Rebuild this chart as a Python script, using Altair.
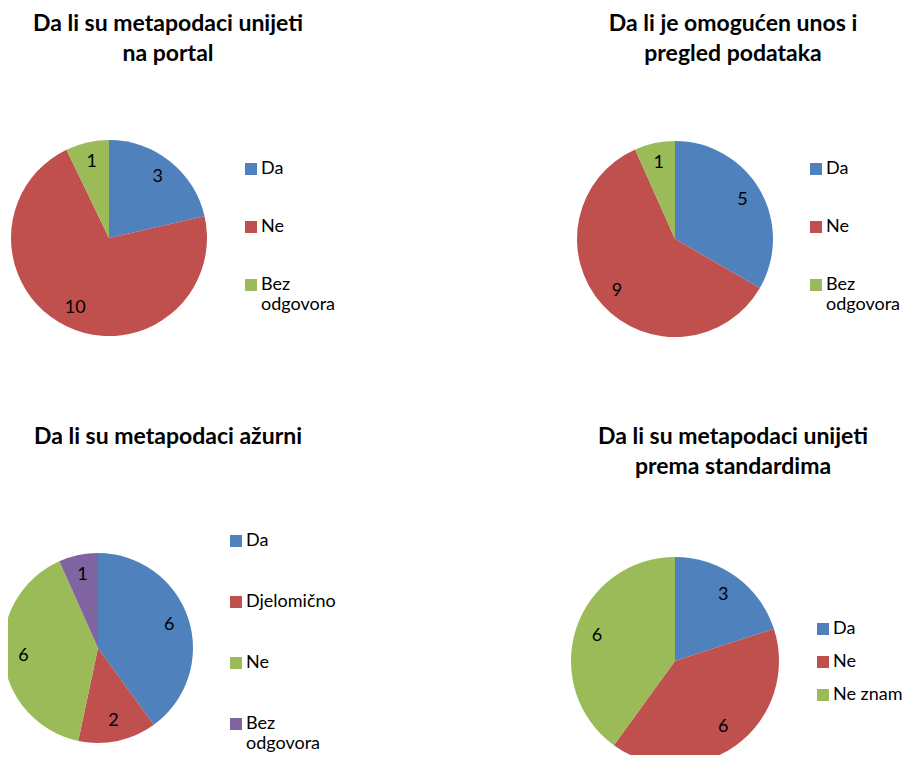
import altair as alt
import pandas as pd

# ---- data ----
titles = [
    "Da li su metapodaci unijeti\nna portal",
    "Da li je omogućen unos i\npregled podataka",
    "Da li su metapodaci ažurni",
    "Da li su metapodaci unijeti\nprema standardima",
]
cats1 = ["Da", "Ne", "Bez odgovora"]
vals1 = [3, 10, 1]
cats2 = ["Da", "Ne", "Bez odgovora"]
vals2 = [5, 9, 1]
cats3 = ["Da", "Djelomično", "Ne", "Bez odgovora"]
vals3 = [6, 2, 6, 1]
cats4 = ["Da", "Ne", "Ne znam"]
vals4 = [3, 6, 6]
palette = ["#4F81BD", "#C0504D", "#9BBB59", "#8064A2"]

FONT = "Lato"

# layout per panel: centre, radius, label radius, title pos, legend pos, legend row padding
panels = [
    dict(cats=cats1, vals=vals1, cx=101, cy=230, r=98, lr=78, tx=160, ty=23,
         lx=234, ly=152, rp=40),
    dict(cats=cats2, vals=vals2, cx=667, cy=231, r=98, lr=78, tx=725, ty=23,
         lx=799, ly=152, rp=40),
    dict(cats=cats3, vals=vals3, cx=90, cy=640, r=95, lr=75, tx=160, ty=436,
         lx=219, ly=524, rp=43),
    dict(cats=cats4, vals=vals4, cx=667, cy=653, r=104, lr=82, tx=725, ty=436,
         lx=806, ly=612, rp=15),
]

layers = []
for i, p in enumerate(panels):
    df = pd.DataFrame({"c": p["cats"], "v": p["vals"], "o": list(range(len(p["cats"])))})
    arc = alt.Chart(df).mark_arc(outerRadius=p["r"]).encode(
        theta=alt.Theta("v:Q", stack=True),
        color=alt.Color(
            "c:N",
            scale=alt.Scale(domain=p["cats"], range=palette[: len(p["cats"])]),
            legend=alt.Legend(
                title=None,
                orient="none",
                legendX=p["lx"],
                legendY=p["ly"],
                symbolType="square",
                symbolSize=144,
                symbolStrokeWidth=0,
                labelFont=FONT,
                labelFontSize=18,
                labelColor="#000000",
                labelOffset=1,
                rowPadding=p["rp"],
                padding=0,
                labelLimit=300,
                labelExpr="datum.label == 'Bez odgovora' ? ['Bez', 'odgovora'] : datum.label",
            ),
        ),
        order=alt.Order("o:Q"),
        x=alt.value(p["cx"]),
        y=alt.value(p["cy"]),
    )
    txt = alt.Chart(df).mark_text(radius=p["lr"], font=FONT, fontSize=18, color="#000000").encode(
        theta=alt.Theta("v:Q", stack=True),
        text=alt.Text("v:Q"),
        order=alt.Order("o:Q"),
        x=alt.value(p["cx"]),
        y=alt.value(p["cy"]),
    )
    ttl = alt.Chart(pd.DataFrame({"t": [titles[i]]})).mark_text(
        font=FONT, fontWeight="bold", fontSize=23, lineBreak="\n", lineHeight=30,
        align="center", baseline="alphabetic", color="#000000",
    ).encode(text="t:N", x=alt.value(p["tx"]), y=alt.value(p["ty"]))
    layers += [arc, txt, ttl]

chart = alt.layer(*layers).resolve_scale(
    theta="independent", color="independent"
).properties(
    width=897, height=747, padding=0,
    autosize=alt.AutoSizeParams(type="none"),
).configure_view(stroke=None)

chart.save("out.html", embed_options={"renderer": "svg", "actions": False})
